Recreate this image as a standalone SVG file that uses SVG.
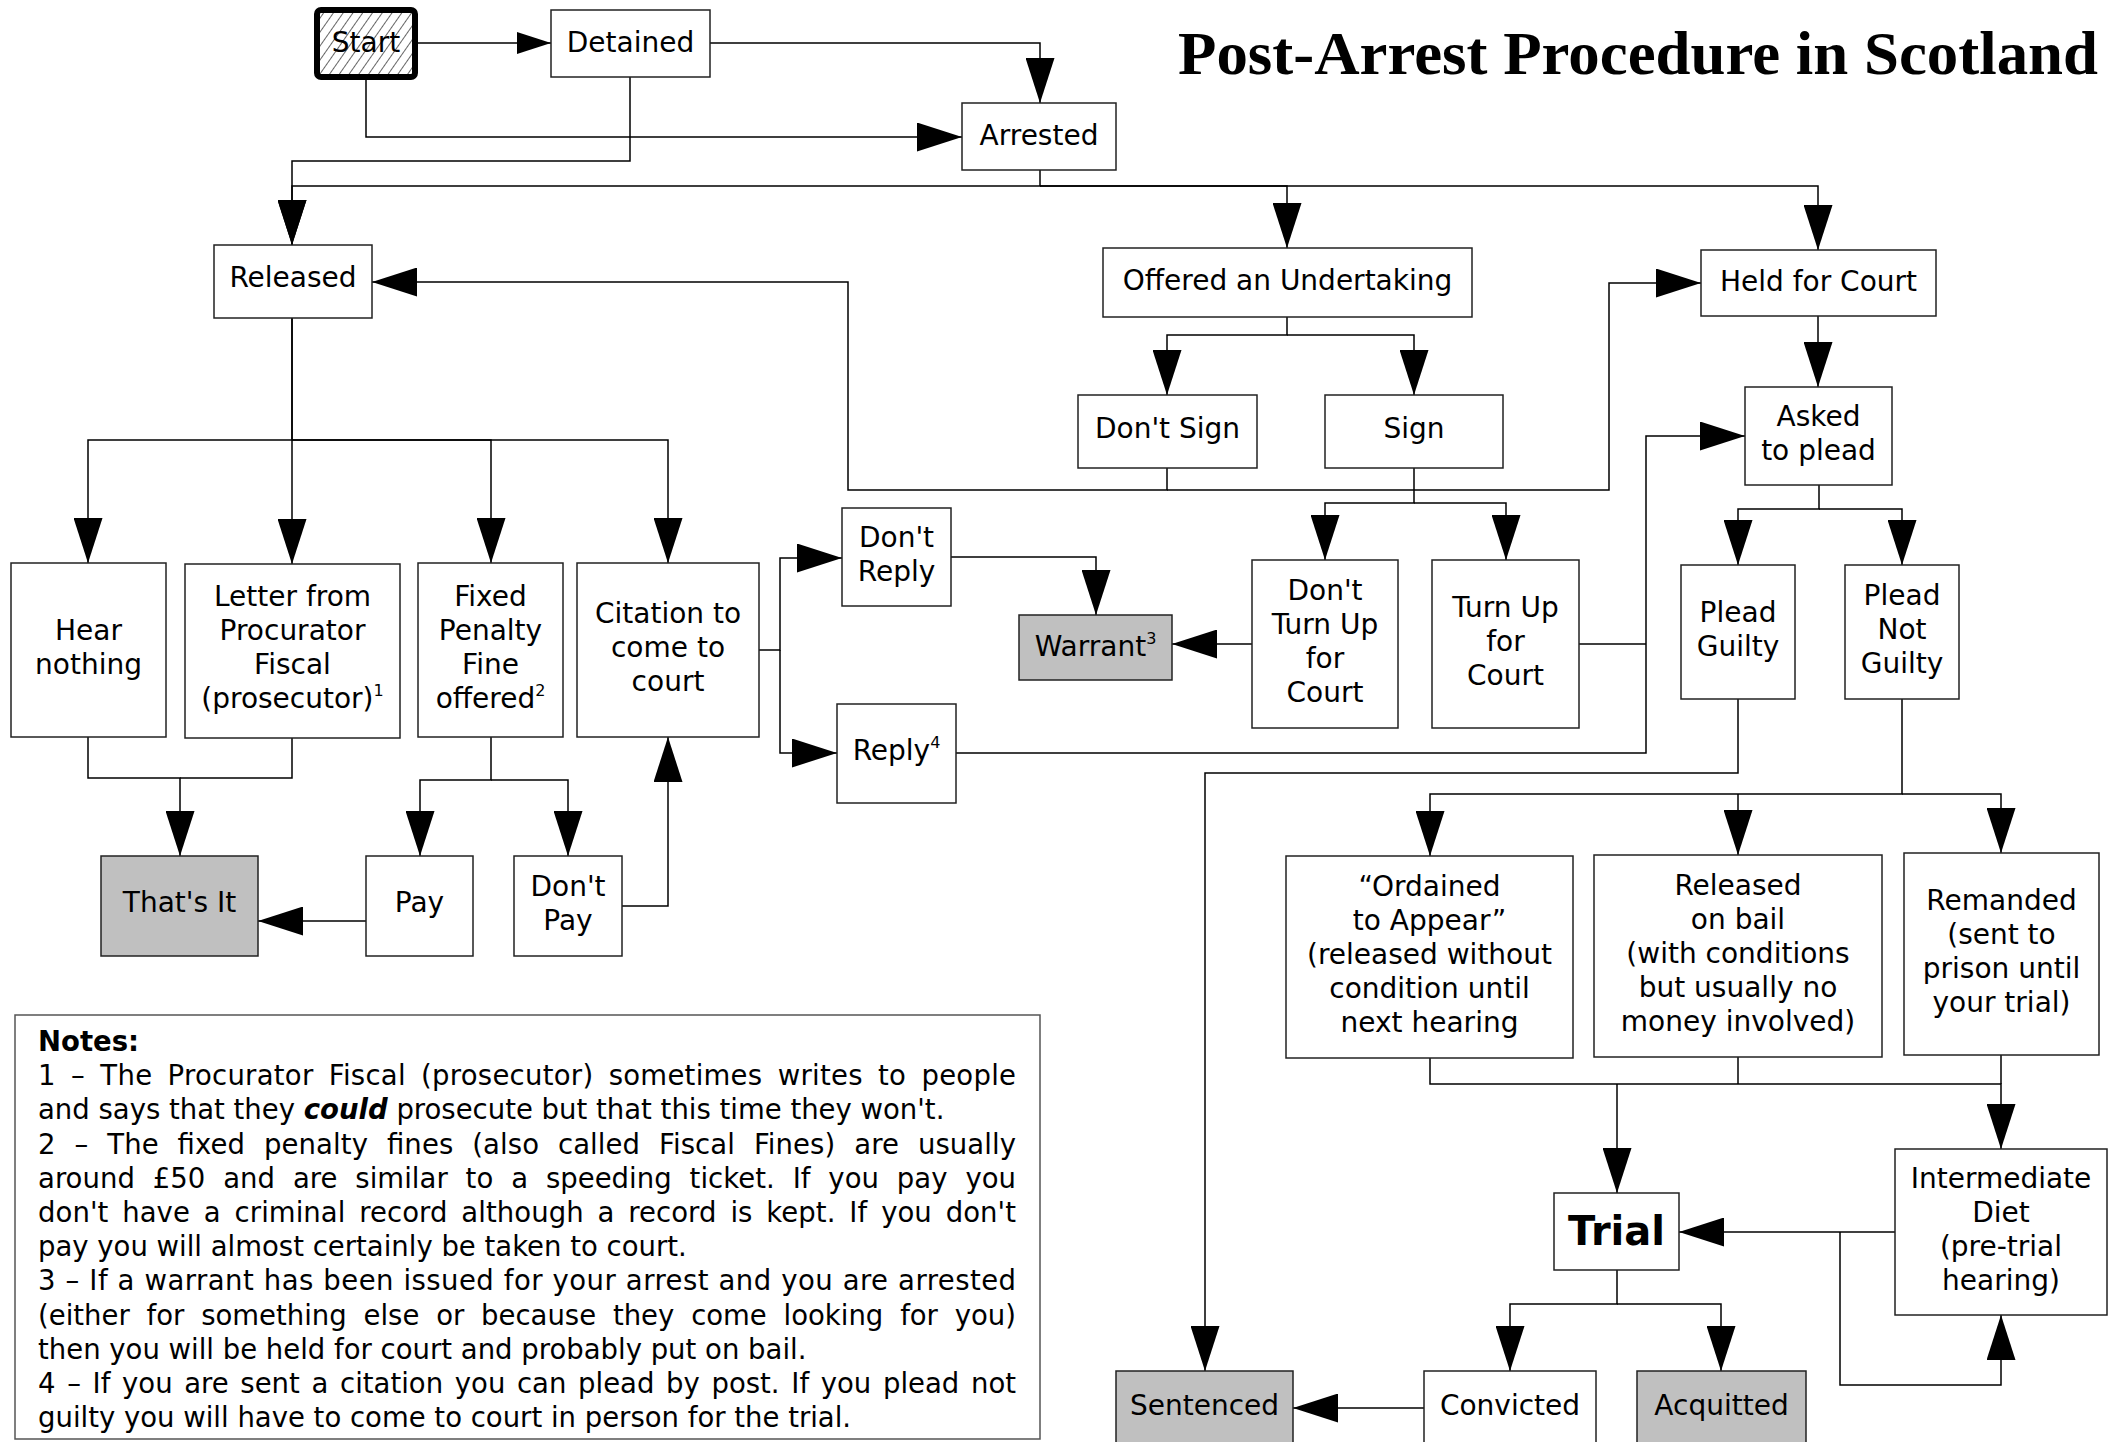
<svg xmlns="http://www.w3.org/2000/svg" width="2116" height="1442" viewBox="0 0 2116 1442">
<defs>
<style>
.box{fill:#fff;stroke:#222;stroke-width:1.5}
.gray{fill:#c0c0c0;stroke:#222;stroke-width:1.5}
.t{font-family:'DejaVu Sans','Liberation Sans',sans-serif;font-size:28px;text-anchor:middle;fill:#000}
.big{font-size:40px;font-weight:bold}
.c{fill:none;stroke:#000;stroke-width:1.5}
.a{marker-end:url(#ah)}
.n{font-family:'DejaVu Sans','Liberation Sans',sans-serif;font-size:27.5px;fill:#000}
.sup{font-size:16px}
</style>
<marker id="ah" markerUnits="userSpaceOnUse" markerWidth="45" markerHeight="29" refX="45" refY="14.5" orient="auto"><path d="M0,0 L45,14.5 L0,29 z" fill="#000"/></marker>
<marker id="ahs" markerUnits="userSpaceOnUse" markerWidth="34" markerHeight="22" refX="34" refY="11" orient="auto"><path d="M0,0 L34,11 L0,22 z" fill="#000"/></marker>
<pattern id="hatch" patternUnits="userSpaceOnUse" width="8" height="8" patternTransform="rotate(35)"><rect width="8" height="8" fill="#fff"/><line x1="0" y1="0" x2="0" y2="8" stroke="#000" stroke-width="1.2"/></pattern>
</defs>
<rect width="2116" height="1442" fill="#fff"/>

<text x="1178" y="74" font-family="'Liberation Serif',serif" font-weight="bold" font-size="62" textLength="920" lengthAdjust="spacingAndGlyphs">Post-Arrest Procedure in Scotland</text>

<g id="connectors">
<path class="c" marker-end="url(#ahs)" d="M418,43 H551"/>
<path class="c a" d="M710,43 H1040 V103"/>
<path class="c a" d="M366,80 V137 H962"/>
<path class="c a" d="M630,77 V161 H292 V245"/>
<path class="c a" d="M1040,170 V186 H292 V245"/>
<path class="c a" d="M1040,186 H1287 V248"/>
<path class="c a" d="M1040,186 H1818 V250"/>
<path class="c a" d="M292,318 V440 H88 V563"/>
<path class="c a" d="M292,318 V564"/>
<path class="c a" d="M292,440 H491 V563"/>
<path class="c a" d="M292,440 H668 V563"/>
<path class="c a" d="M88,737 V778 H180 V856"/>
<path class="c" d="M292,738 V778 H180"/>
<path class="c a" d="M491,737 V780 H420 V856"/>
<path class="c a" d="M491,780 H568 V856"/>
<path class="c a" d="M366,921 H258"/>
<path class="c a" d="M622,906 H668 V737"/>
<path class="c a" d="M759,650 H780 V558 H842"/>
<path class="c a" d="M780,650 V753 H837"/>
<path class="c a" d="M951,557 H1096 V615"/>
<path class="c a" d="M956,753 H1646 V436 H1745"/>
<path class="c" d="M1579,644 H1646"/>
<path class="c a" d="M1252,644 H1172"/>
<path class="c a" d="M1287,317 V335 H1167 V395"/>
<path class="c a" d="M1287,335 H1414 V395"/>
<path class="c a" d="M1167,468 V490 H848 V282 H372"/>
<path class="c a" d="M1167,490 H1609 V283 H1701"/>
<path class="c a" d="M1414,468 V503 H1325 V560"/>
<path class="c a" d="M1414,503 H1506 V560"/>
<path class="c a" d="M1818,316 V387"/>
<path class="c a" d="M1819,485 V509 H1738 V565"/>
<path class="c a" d="M1819,509 H1902 V565"/>
<path class="c a" d="M1738,699 V773 H1205 V1371"/>
<path class="c a" d="M1902,699 V794 H1430 V856"/>
<path class="c a" d="M1738,794 V855"/>
<path class="c a" d="M1902,794 H2001 V853"/>
<path class="c a" d="M1430,1058 V1084 H2001 V1149"/>
<path class="c a" d="M1617,1084 V1193"/>
<path class="c" d="M1738,1057 V1084"/>
<path class="c" d="M2001,1055 V1084"/>
<path class="c a" d="M1895,1232 H1679"/>
<path class="c a" d="M1840,1232 V1385 H2001 V1315"/>
<path class="c a" d="M1617,1270 V1304 H1510 V1371"/>
<path class="c a" d="M1617,1304 H1721 V1371"/>
<path class="c a" d="M1424,1408 H1293"/>
</g>

<g id="start"><rect x="317" y="10" width="98" height="67" rx="4" fill="url(#hatch)" stroke="#000" stroke-width="6"/><text class="t" x="366" y="52">Start</text></g>
<g id="detained"><rect class="box" x="551" y="10" width="159" height="67"/><text class="t" x="630.5" y="52">Detained</text></g>
<g id="arrested"><rect class="box" x="962" y="103" width="154" height="67"/><text class="t" x="1039" y="145">Arrested</text></g>
<g id="released"><rect class="box" x="214" y="245" width="158" height="73"/><text class="t" x="293" y="287">Released</text></g>
<g id="offered"><rect class="box" x="1103" y="248" width="369" height="69"/><text class="t" x="1287.5" y="290">Offered an Undertaking</text></g>
<g id="held"><rect class="box" x="1701" y="250" width="235" height="66"/><text class="t" x="1818.5" y="291">Held for Court</text></g>
<g id="dontsign"><rect class="box" x="1078" y="395" width="179" height="73"/><text class="t" x="1167.5" y="438">Don't Sign</text></g>
<g id="sign"><rect class="box" x="1325" y="395" width="178" height="73"/><text class="t" x="1414" y="438">Sign</text></g>
<g id="asked"><rect class="box" x="1745" y="387" width="147" height="98"/><text class="t"><tspan x="1818.5" y="426">Asked</tspan><tspan x="1818.5" y="460">to plead</tspan></text></g>
<g id="hear"><rect class="box" x="11" y="563" width="155" height="174"/><text class="t"><tspan x="88.5" y="640">Hear</tspan><tspan x="88.5" y="674">nothing</tspan></text></g>
<g id="letter"><rect class="box" x="185" y="564" width="215" height="174"/><text class="t"><tspan x="292.5" y="606">Letter from</tspan><tspan x="292.5" y="640">Procurator</tspan><tspan x="292.5" y="674">Fiscal</tspan><tspan x="292.5" y="708">(prosecutor)<tspan class="sup" dy="-12">1</tspan></tspan></text></g>
<g id="fixed"><rect class="box" x="418" y="563" width="145" height="174"/><text class="t"><tspan x="490.5" y="606">Fixed</tspan><tspan x="490.5" y="640">Penalty</tspan><tspan x="490.5" y="674">Fine</tspan><tspan x="490.5" y="708">offered<tspan class="sup" dy="-12">2</tspan></tspan></text></g>
<g id="citation"><rect class="box" x="577" y="563" width="182" height="174"/><text class="t"><tspan x="668" y="623">Citation to</tspan><tspan x="668" y="657">come to</tspan><tspan x="668" y="691">court</tspan></text></g>
<g id="dontreply"><rect class="box" x="842" y="508" width="109" height="98"/><text class="t"><tspan x="896.5" y="547">Don't</tspan><tspan x="896.5" y="581">Reply</tspan></text></g>
<g id="reply"><rect class="box" x="837" y="704" width="119" height="99"/><text class="t" x="896.5" y="760">Reply<tspan class="sup" dy="-12">4</tspan></text></g>
<g id="warrant"><rect class="gray" x="1019" y="615" width="153" height="65"/><text class="t" x="1095.5" y="656">Warrant<tspan class="sup" dy="-12">3</tspan></text></g>
<g id="dontturnup"><rect class="box" x="1252" y="560" width="146" height="168"/><text class="t"><tspan x="1325" y="600">Don't</tspan><tspan x="1325" y="634">Turn Up</tspan><tspan x="1325" y="668">for</tspan><tspan x="1325" y="702">Court</tspan></text></g>
<g id="turnup"><rect class="box" x="1432" y="560" width="147" height="168"/><text class="t"><tspan x="1505.5" y="617">Turn Up</tspan><tspan x="1505.5" y="651">for</tspan><tspan x="1505.5" y="685">Court</tspan></text></g>
<g id="pleadguilty"><rect class="box" x="1681" y="565" width="114" height="134"/><text class="t"><tspan x="1738" y="622">Plead</tspan><tspan x="1738" y="656">Guilty</tspan></text></g>
<g id="pleadnotguilty"><rect class="box" x="1845" y="565" width="114" height="134"/><text class="t"><tspan x="1902" y="605">Plead</tspan><tspan x="1902" y="639">Not</tspan><tspan x="1902" y="673">Guilty</tspan></text></g>
<g id="thatsit"><rect class="gray" x="101" y="856" width="157" height="100"/><text class="t" x="179.5" y="912">That's It</text></g>
<g id="pay"><rect class="box" x="366" y="856" width="107" height="100"/><text class="t" x="419.5" y="912">Pay</text></g>
<g id="dontpay"><rect class="box" x="514" y="856" width="108" height="100"/><text class="t"><tspan x="568" y="896">Don't</tspan><tspan x="568" y="930">Pay</tspan></text></g>
<g id="ordained"><rect class="box" x="1286" y="856" width="287" height="202"/><text class="t"><tspan x="1429.5" y="896">“Ordained</tspan><tspan x="1429.5" y="930">to Appear”</tspan><tspan x="1429.5" y="964">(released without</tspan><tspan x="1429.5" y="998">condition until</tspan><tspan x="1429.5" y="1032">next hearing</tspan></text></g>
<g id="bail"><rect class="box" x="1594" y="855" width="288" height="202"/><text class="t"><tspan x="1738" y="895">Released</tspan><tspan x="1738" y="929">on bail</tspan><tspan x="1738" y="963">(with conditions</tspan><tspan x="1738" y="997">but usually no</tspan><tspan x="1738" y="1031">money involved)</tspan></text></g>
<g id="remanded"><rect class="box" x="1904" y="853" width="195" height="202"/><text class="t"><tspan x="2001.5" y="910">Remanded</tspan><tspan x="2001.5" y="944">(sent to</tspan><tspan x="2001.5" y="978">prison until</tspan><tspan x="2001.5" y="1012">your trial)</tspan></text></g>
<g id="diet"><rect class="box" x="1895" y="1149" width="212" height="166"/><text class="t"><tspan x="2001" y="1188">Intermediate</tspan><tspan x="2001" y="1222">Diet</tspan><tspan x="2001" y="1256">(pre-trial</tspan><tspan x="2001" y="1290">hearing)</tspan></text></g>
<g id="trial"><rect class="box" x="1554" y="1193" width="125" height="77"/><text class="t big" x="1616.5" y="1245">Trial</text></g>
<g id="sentenced"><rect class="gray" x="1116" y="1371" width="177" height="100"/><text class="t" x="1204.5" y="1415">Sentenced</text></g>
<g id="convicted"><rect class="box" x="1424" y="1371" width="172" height="100"/><text class="t" x="1510" y="1415">Convicted</text></g>
<g id="acquitted"><rect class="gray" x="1637" y="1371" width="169" height="100"/><text class="t" x="1721.5" y="1415">Acquitted</text></g>

<g id="notes">
<rect x="15" y="1015" width="1025" height="424" fill="#fff" stroke="#555" stroke-width="1.5"/>
<text class="n" x="38" y="1051" font-weight="bold">Notes:</text>
<text class="n" x="38" y="1085" word-spacing="6.3" textLength="978" lengthAdjust="spacing">1 – The Procurator Fiscal (prosecutor) sometimes writes to people</text>
<text class="n" x="38" y="1119">and says that they <tspan font-weight="bold" font-style="italic">could</tspan> prosecute but that this time they won't.</text>
<text class="n" x="38" y="1154" word-spacing="10.1" textLength="978" lengthAdjust="spacing">2 – The fixed penalty fines (also called Fiscal Fines) are usually</text>
<text class="n" x="38" y="1188" word-spacing="9.1" textLength="978" lengthAdjust="spacing">around £50 and are similar to a speeding ticket.  If you pay you</text>
<text class="n" x="38" y="1222" word-spacing="5.1" textLength="978" lengthAdjust="spacing">don't have a criminal record although a record is kept. If you don't</text>
<text class="n" x="38" y="1256">pay you will almost certainly be taken to court.</text>
<text class="n" x="38" y="1290" word-spacing="0.4" textLength="978" lengthAdjust="spacing">3 – If a warrant has been issued for your arrest and you are arrested</text>
<text class="n" x="38" y="1325" word-spacing="8.1" textLength="978" lengthAdjust="spacing">(either for something else or because they come looking for you)</text>
<text class="n" x="38" y="1359">then you will be held for court and probably put on bail.</text>
<text class="n" x="38" y="1393" word-spacing="2.9" textLength="978" lengthAdjust="spacing">4 – If you are sent a citation you can plead by post. If you plead not</text>
<text class="n" x="38" y="1427">guilty you will have to come to court in person for the trial.</text>
</g>
</svg>
